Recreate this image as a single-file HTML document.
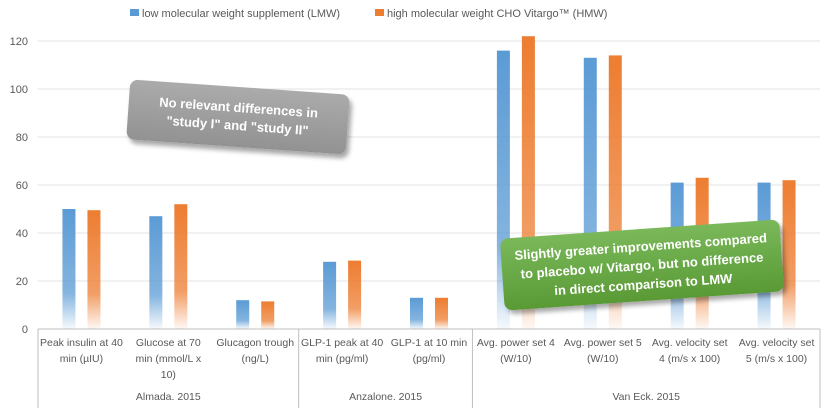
<!DOCTYPE html>
<html><head><meta charset="utf-8"><style>
body{margin:0;background:#fff;width:830px;height:408px;overflow:hidden;font-family:"Liberation Sans",sans-serif}
svg text{font-family:"Liberation Sans",sans-serif;fill:#595959;font-size:11px}
svg .xl{font-size:10.5px}
.box{position:absolute;color:#fff;font-weight:bold;font-family:"Liberation Sans",sans-serif;text-align:center;display:flex;align-items:center;justify-content:center;border-radius:8px;box-shadow:3px 4px 5px rgba(0,0,0,0.35)}
</style></head><body>
<svg width="830" height="408">
<defs>
<linearGradient id="gb" x1="0" y1="0" x2="0" y2="1"><stop offset="0" stop-color="#5b9bd5"/><stop offset="0.7" stop-color="#5b9bd5" stop-opacity="0.75"/><stop offset="1" stop-color="#5b9bd5" stop-opacity="0.05"/></linearGradient>
<linearGradient id="go" x1="0" y1="0" x2="0" y2="1"><stop offset="0" stop-color="#ed7d31"/><stop offset="0.7" stop-color="#ed7d31" stop-opacity="0.75"/><stop offset="1" stop-color="#ed7d31" stop-opacity="0.05"/></linearGradient>
</defs>
<g id="grid"></g><g id="bars"></g><g id="labels"></g>
<rect x="130" y="9" width="9" height="7" fill="#5b9bd5"/>
<text x="142" y="17">low molecular weight supplement (LMW)</text>
<rect x="375" y="9" width="9" height="7" fill="#ed7d31"/>
<text x="387" y="17">high molecular weight CHO Vitargo™ (HMW)</text>
</svg>
<div class="box" style="left:128px;top:87px;width:220px;height:60px;background:linear-gradient(#ababab,#929292);transform:rotate(4deg);font-size:13px;line-height:18px">No relevant differences in<br>"study I" and "study II"</div>
<div class="box" style="left:502px;top:229px;width:280px;height:72px;background:linear-gradient(#7ab85a,#5a9a35);transform:rotate(-4deg);font-size:13px;line-height:19px">Slightly greater improvements compared<br>to placebo w/ Vitargo, but no difference<br>in direct comparison to LMW</div>
<script>
const categories=[["Peak insulin at 40","min (µIU)"],["Glucose at 70","min (mmol/L x","10)"],["Glucagon trough","(ng/L)"],["GLP-1 peak at 40","min (pg/ml)"],["GLP-1 at 10 min","(pg/ml)"],["Avg. power set 4","(W/10)"],["Avg. power set 5","(W/10)"],["Avg. velocity set","4 (m/s x 100)"],["Avg. velocity set","5 (m/s x 100)"]];
const lmw=[50,47,12,28,13,116,113,61,61];
const hmw=[49.5,52,11.5,28.5,13,122,114,63,62];
const ticks=[0,20,40,60,80,100,120];
const groups=["Almada. 2015","Anzalone. 2015","Van Eck. 2015"];
const groupSizes=[3,2,4];
const NS="http://www.w3.org/2000/svg";
const x0=38,x1=820,yTop=41,yBot=329,yMax=120;
const cw=(x1-x0)/categories.length;
const y=v=>yBot-(v/yMax)*(yBot-yTop);
const cx=i=>x0+cw*(i+0.5);
function mk(t,a,p){const e=document.createElementNS(NS,t);for(const k in a)e.setAttribute(k,a[k]);p.appendChild(e);return e;}
const G=document.getElementById('grid'),B=document.getElementById('bars'),L=document.getElementById('labels');
ticks.forEach(t=>{
 const l=mk('line',{x1:x0,x2:x1,y1:y(t),y2:y(t),stroke:t===0?'#bfbfbf':'#e3e3e3','stroke-width':1},G);
 
 
 const tx=mk('text',{x:28,y:y(t)+4,'text-anchor':'end'},G);tx.textContent=t;
 
 
});
lmw.forEach((v,i)=>{
 const r=mk('rect',{x:cx(i)-19,y:y(v),width:13,height:yBot-y(v),fill:'url(#gb)'},B);
 
 
});
hmw.forEach((v,i)=>{
 const r=mk('rect',{x:cx(i)+6,y:y(v),width:13,height:yBot-y(v),fill:'url(#go)'},B);
 
 
});
categories.forEach((c,i)=>{
 const t=mk('text',{x:cx(i),'text-anchor':'middle','class':'xl'},L);
 
 
 c.forEach((s,j)=>{const ts=mk('tspan',{x:cx(i),y:346+j*16},t);ts.textContent=s;});
});
let s=0;
const b0=mk('line',{x1:x0,x2:x0,y1:yBot,y2:408,stroke:'#bfbfbf'},L);
groups.forEach((g,k)=>{
 const a=x0+s*cw;s+=groupSizes[k];const b=x0+s*cw;
 const ln=mk('line',{x1:b,x2:b,y1:yBot,y2:408,stroke:'#bfbfbf'},L);
 
 
 const t=mk('text',{x:(a+b)/2,y:400,'text-anchor':'middle','class':'xl'},L);t.textContent=g;
 
 
});
</script>
</body></html>
